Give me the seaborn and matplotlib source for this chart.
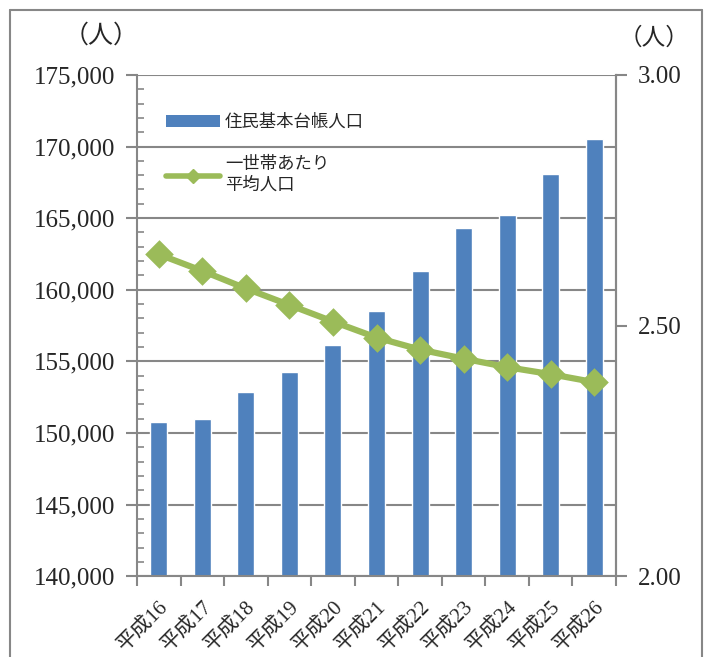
import matplotlib
matplotlib.use("Agg")
import matplotlib.pyplot as plt
import matplotlib.ticker as mticker
from matplotlib.lines import Line2D
from matplotlib.patches import Patch
import seaborn as sns
import pandas as pd

# Fiscal years (Heisei era)
years = ["平成16", "平成17", "平成18", "平成19", "平成20", "平成21",
         "平成22", "平成23", "平成24", "平成25", "平成26"]
# Resident register population (persons)
population = [150760, 150970, 152860, 154260, 156120, 158500,
              161310, 164340, 165230, 168070, 170540]
# Average persons per household
per_household = [2.642, 2.609, 2.574, 2.541, 2.508, 2.476,
                 2.452, 2.434, 2.417, 2.403, 2.387]

bar_label = "住民基本台帳人口"
line_label = "一世帯あたり\n平均人口"

df = pd.DataFrame({"year": years, "pop": population, "hh": per_household})

sns.set_style("white")
plt.rcParams["font.family"] = ["Liberation Serif", "Noto Sans CJK JP"]

BLUE = "#4F81BD"
GREEN = "#9BBB59"
GRAY = "#878787"

fig = plt.figure(figsize=(7.07, 6.57), dpi=100)
ax = fig.add_axes([137 / 707, 0.123, 479 / 707, 0.763])

sns.barplot(data=df, x="year", y="pop", color=BLUE, width=0.39,
            saturation=1, ax=ax, zorder=2)
ax.set_ylim(140000, 175000)
ax.set_xlim(-0.5, len(years) - 0.5)
ax.yaxis.set_major_locator(mticker.MultipleLocator(5000))
ax.yaxis.set_minor_locator(mticker.MultipleLocator(1000))
ax.yaxis.set_major_formatter(mticker.FuncFormatter(lambda v, p: f"{int(v):,}"))
ax.grid(axis="y", which="major", color=GRAY, linewidth=1.5, zorder=0)
ax.grid(axis="x", visible=False)
ax.set_axisbelow(True)
ax.set_xlabel("")
ax.set_ylabel("")

for s in ax.spines.values():
    s.set_color(GRAY)
    s.set_linewidth(1.5)
ax.spines["top"].set_visible(False)

ax.tick_params(axis="y", which="major", direction="out", length=8, width=1.5,
               color=GRAY, labelsize=18, pad=8)
ax.tick_params(axis="y", which="minor", direction="in", length=5, width=1.2,
               color=GRAY, left=True)

# category labels at the centers, tick marks at the boundaries
ax.set_xticks(range(len(years)))
ax.set_xticklabels(years, rotation=45, ha="right", va="top",
                   rotation_mode="anchor", fontsize=15,
                   family=["Liberation Serif", "Noto Sans CJK JP"])
ax.tick_params(axis="x", which="major", length=0, pad=15)
ax.set_xticks([i - 0.5 for i in range(len(years) + 1)], minor=True)
ax.tick_params(axis="x", which="minor", direction="out", length=7, width=1.5,
               color=GRAY, bottom=True)

ax2 = ax.twinx()
sns.pointplot(data=df, x="year", y="hh", color=GREEN, markers="D",
              markersize=11, linewidth=4.5, ax=ax2, zorder=5)
ax2.set_xlim(-0.5, len(years) - 0.5)
ax2.set_ylim(2.0, 3.0)
ax2.set_yticks([2.0, 2.5, 3.0])
ax2.yaxis.set_major_formatter(mticker.FormatStrFormatter("%.2f"))
ax2.set_ylabel("")
ax2.set_xlabel("")
ax2.grid(False)
for s in ax2.spines.values():
    s.set_visible(False)
ax2.spines["right"].set_visible(True)
ax2.spines["right"].set_color(GRAY)
ax2.spines["right"].set_linewidth(1.5)
ax2.tick_params(axis="y", direction="out", length=8, width=1.5, color=GRAY,
                labelsize=18, pad=8)

# unit labels
fig.text(0.143, 0.946, "（人）", fontsize=18, ha="center", va="center",
         family=["Noto Sans CJK JP"])
fig.text(0.925, 0.942, "（人）", fontsize=17, ha="center", va="center",
         family=["Noto Sans CJK JP"])

handles = [Patch(facecolor=BLUE, edgecolor="none"),
           Line2D([], [], color=GREEN, linewidth=4, marker="D",
                  markersize=7)]
leg = ax2.legend(handles, [bar_label, line_label], loc="upper left",
                 bbox_to_anchor=(0.028, 0.955), frameon=False,
                 prop={"family": "Noto Sans CJK JP", "size": 12.5},
                 handlelength=3.1, handleheight=0.65, labelspacing=1.4,
                 handletextpad=0.3)

# outer frame of the chart area
frame_kw = dict(color=GRAY, linewidth=1.5, transform=fig.transFigure)
x0, x1, ytop = 10 / 707, 702 / 707, 1 - 10 / 657
fig.add_artist(Line2D([x0, x1], [ytop, ytop], **frame_kw))
fig.add_artist(Line2D([x0, x0], [0, ytop], **frame_kw))
fig.add_artist(Line2D([x1, x1], [0, ytop], **frame_kw))

fig.savefig("out.png", dpi=100)
